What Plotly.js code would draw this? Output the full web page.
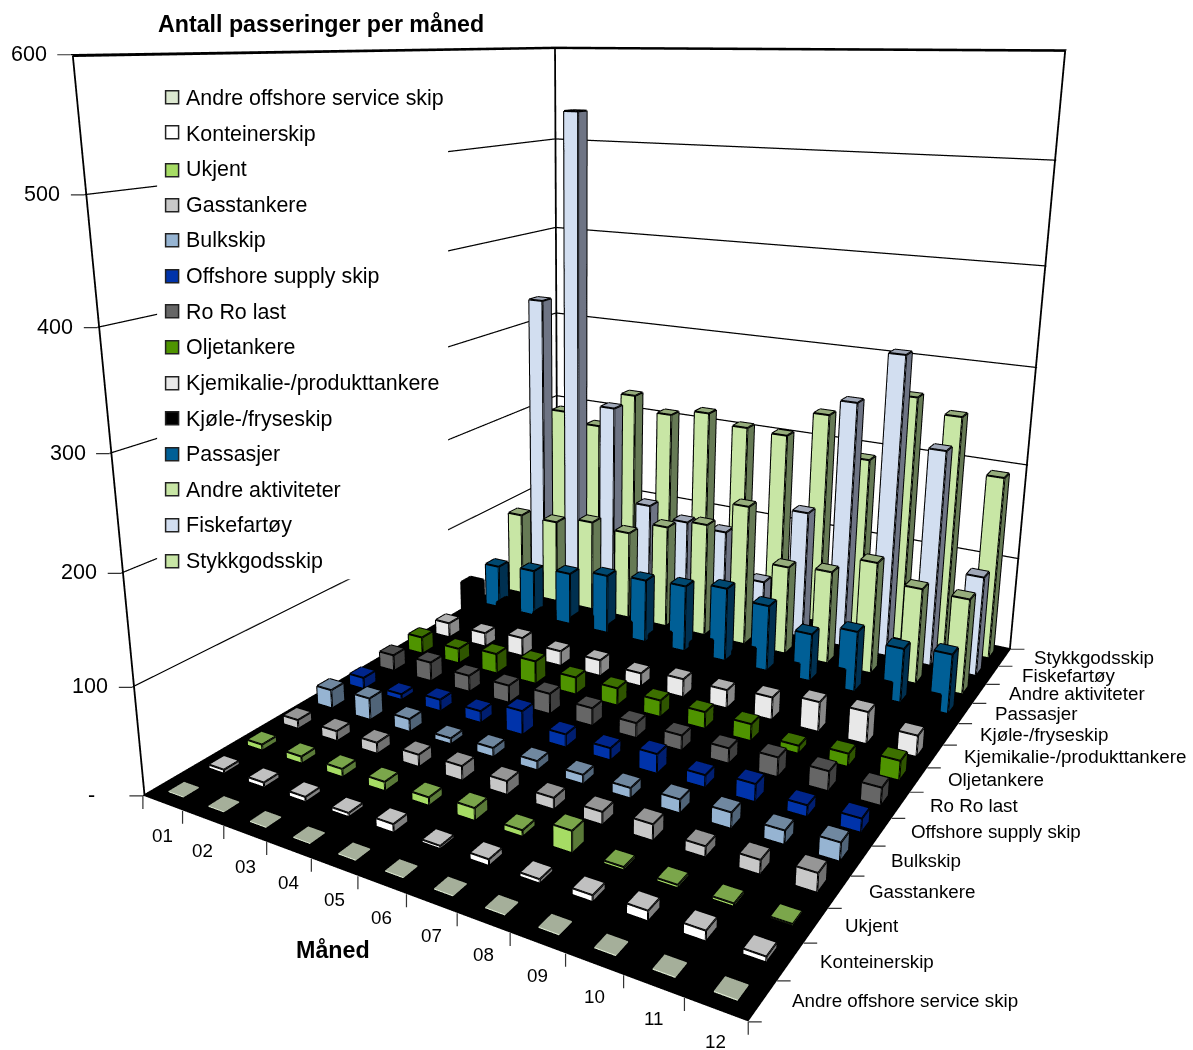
<!DOCTYPE html>
<html>
<head>
<meta charset="utf-8">
<script src="https://cdn.plot.ly/plotly-3.0.1.min.js"></script>
<style>
html,body{margin:0;padding:0;width:1193px;height:1050px;overflow:hidden;background:#fff}
#chart{position:absolute;left:-71.1px;top:-141.17px;width:1300px;height:1192px}
</style>
</head>
<body>
<div id="chart"></div>
<script>
// Monthly passages by ship type, as a 3D column chart.
const months = ['01','02','03','04','05','06','07','08','09','10','11','12'];
const shipTypes = ['Andre offshore service skip','Konteinerskip','Ukjent','Gasstankere','Bulkskip',
  'Offshore supply skip','Ro Ro last','Oljetankere','Kjemikalie-/produkttankere','Kjøle-/fryseskip',
  'Passasjer','Andre aktiviteter','Fiskefartøy','Stykkgodsskip'];

const andreOffshore = [1,1,1,1,1,1,1,1,1,1,1,1];
const konteiner = [3,4,4,3,7,2,5,3,5,8,8,4];
const ukjent = [5,6,7,8,7,11,5,19,2,2,2,1];
const gass = [8,9,10,11,13,12,10,11,14,9,12,16];
const bulk = [18,21,12,5,8,8,8,9,12,14,12,16];
const offshoreSupply = [11,5,11,11,23,12,11,18,11,16,10,12];
const roRo = [16,19,16,17,20,17,14,14,14,18,18,16];
const olje = [17,15,20,23,17,17,16,16,16,7,12,18];
const kjemikalie = [15,14,19,15,16,13,18,18,22,29,31,20];
const kjole = [42,28,26,30,33,32,34,36,30,35,33,32];
const passasjer = [47,51,57,64,68,71,78,69,49,62,55,60];
const andreAktiviteter = [93,93,101,97,112,123,151,94,98,117,99,98];
const fiskefartoy = [330,536,219,114,103,100,52,138,262,316,226,104];
const stykkgods = [192,181,223,207,215,205,203,232,190,263,249,193];
const seriesValues = [andreOffshore,konteiner,ukjent,gass,bulk,offshoreSupply,roRo,olje,kjemikalie,kjole,passasjer,andreAktiviteter,fiskefartoy,stykkgods];

// face colours per series: front, top, side
const frontColors = ['#DCE8D0','#FFFFFF','#A6DC64','#C8C8C8','#96B4D2','#0033AA','#666666','#4F9400','#E8E8E8','#000000','#005F96','#C8E6A5','#D2DEF0','#C8E6A5'];
const topColors   = ['#A5AF9A','#C0C0C0','#7BA64B','#969696','#7088A0','#00258C','#4D4D4D','#3D7000','#B0B0B0','#000000','#004870','#96AD7C','#A0A8B8','#96AD7C'];
const sideColors  = ['#A5AF9A','#808080','#5A7A38','#707070','#506478','#001E70','#404040','#2F5500','#888888','#000000','#003050','#667A55','#6E7484','#667A55'];

const zTicks = [0,100,200,300,400,500,600];
const zTickText = ['-','100','200','300','400','500','600'];
const legendRows = [97,132,170,205,240,276,311,347,383,418,454,489,525,561];
const BAR = 0.187;           // half width of a column in cell units
const FONT = 'Liberation Sans, Arial, sans-serif';

// The plot div is larger than the window: the scene's fixed field of view needs this height.
const TOP = 141.17, LEFT = -71.1, W = 1300, PAGE_H = 1192, SCENE_H = 1165.44;
const py = v => 1 - (v + TOP) / PAGE_H;
const px = v => (v - LEFT) / W;

const traces = [];
const swatches = [];
shipTypes.forEach((name, s) => {
  const r = s + 1;
  const x=[],y=[],z=[],i=[],j=[],k=[],fc=[];
  const ex=[],ey=[],ez=[];
  seriesValues[s].forEach((v, m) => {
    const c = m + 1, b = x.length;
    const x0=c-BAR,x1=c+BAR,y0=r-BAR,y1=r+BAR;
    [[x0,y0,0],[x1,y0,0],[x1,y1,0],[x0,y1,0],[x0,y0,v],[x1,y0,v],[x1,y1,v],[x0,y1,v]].forEach(p=>{x.push(p[0]);y.push(p[1]);z.push(p[2]);});
    const quad=(a,d,e,f,col)=>{i.push(b+a,b+a);j.push(b+d,b+e);k.push(b+e,b+f);fc.push(col,col);};
    quad(0,1,5,4,frontColors[s]);
    quad(1,2,6,5,sideColors[s]);
    quad(4,5,6,7,topColors[s]);
    quad(3,2,6,7,sideColors[s]);
    quad(0,3,7,4,sideColors[s]);
    [[4,5],[5,6],[6,7],[7,4],[0,4],[1,5],[2,6],[0,1],[1,2]].forEach(e=>{
      const p=[b+e[0],b+e[1]];
      ex.push(x[p[0]],x[p[1]],null);ey.push(y[p[0]],y[p[1]],null);ez.push(z[p[0]],z[p[1]],null);
    });
  });
  traces.push({type:'mesh3d',name,legendgroup:name,showlegend:false,x,y,z,i,j,k,facecolor:fc,flatshading:true,
    lighting:{ambient:1,diffuse:0,specular:0,fresnel:0,roughness:1},hoverinfo:'skip'});
  if (s > 0) traces.push({type:'scatter3d',mode:'lines',name,legendgroup:name,showlegend:false,x:ex,y:ey,z:ez,
    line:{color:'#000',width:4},hoverinfo:'skip'});
  traces.push({type:'scatter3d',mode:'markers',name,legendgroup:name,showlegend:true,x:[null],y:[null],z:[null],
    marker:{symbol:'square',size:12,color:'rgba(0,0,0,0)',opacity:0,line:{width:0,color:'rgba(0,0,0,0)'}},hoverinfo:'skip'});
  swatches.push({type:'rect',xref:'paper',yref:'paper',x0:px(165.5),x1:px(178.5),y0:py(legendRows[s]+6.5),y1:py(legendRows[s]-6.5),
    fillcolor:frontColors[s],line:{color:'#222',width:1.5},layer:'above'});
});

// frame of the two back walls, set just inside the cube so the wall planes do not hide it
const IN = 0.02;
traces.push({type:'scatter3d',mode:'lines',showlegend:false,hoverinfo:'skip',
  x:[0.5+IN,0.5+IN,0.5+IN,12.5-IN,12.5-IN,null,0.5+IN,0.5+IN],
  y:[0.5+IN,0.5+IN,14.5-IN,14.5-IN,14.5-IN,null,14.5-IN,14.5-IN],
  z:[1,599,599,599,1,null,1,599],
  line:{color:'#000',width:3.6}});

const XEND = 12.499, YEND = 14.499;
const tickStyle = {text:' ',font:{size:1},showarrow:true,arrowhead:0,arrowwidth:1.2,arrowcolor:'#333',standoff:0,startstandoff:0};
const annotations3d = [];
months.forEach((t,m)=>annotations3d.push({x:m+1,y:0.5,z:0,text:t,showarrow:false,xshift:0,yshift:-32,
  font:{family:FONT,size:18.8,color:'#000'}}));
shipTypes.forEach((t,s)=>annotations3d.push({x:XEND,y:s+1,z:0,text:t,showarrow:false,xanchor:'left',xshift:27,yshift:0,
  font:{family:FONT,size:18.8,color:'#000'}}));
zTicks.forEach((v,n)=>{
  annotations3d.push({x:0.5,y:0.5,z:v,text:zTickText[n],showarrow:false,xshift:v===0?-51:-42,yshift:1,
    font:{family:FONT,size:21.5,color:'#000'}});
  annotations3d.push(Object.assign({x:0.5,y:0.5,z:v,ax:-15,ay:0},tickStyle));
});
for (let c=0;c<=12;c++) annotations3d.push(Object.assign({x:Math.min(c+0.5,XEND),y:0.5,z:0,ax:0,ay:15},tickStyle));
for (let c=0;c<=14;c++) annotations3d.push(Object.assign({x:XEND,y:Math.min(c+0.5,YEND),z:0,ax:15,ay:0},tickStyle));

const axisBase = {autorange:false,showticklabels:false,ticks:'',zeroline:false,showline:false,showbackground:true,title:{text:''},showspikes:false};
const layout = {
  width:W,height:PAGE_H,margin:{l:0,r:0,t:0,b:0,pad:0},paper_bgcolor:'#fff',showlegend:true,
  title:{text:'<b>Antall passeringer per måned</b>',x:px(158),xanchor:'left',xref:'paper',y:py(24),yanchor:'middle',yref:'paper',
    font:{family:FONT,size:23.2,color:'#000'}},
  legend:{x:px(146),xanchor:'left',y:py(76),yanchor:'top',bgcolor:'rgba(0,0,0,0)',tracegroupgap:4.8,
    font:{family:FONT,size:21.4,color:'#000'},itemclick:false,itemdoubleclick:false},
  shapes:[{type:'rect',xref:'paper',yref:'paper',x0:px(157),x1:px(448),y0:py(579),y1:py(72),fillcolor:'#fff',line:{width:0},layer:'above'}].concat(swatches),
  annotations:[{xref:'paper',yref:'paper',x:px(333),y:py(950),xanchor:'center',yanchor:'middle',text:'<b>Måned</b>',showarrow:false,font:{family:FONT,size:23.3,color:'#000'}}],
  scene:{
    domain:{x:[0,1],y:[(PAGE_H-SCENE_H)/PAGE_H,1]},
    aspectmode:'manual',aspectratio:{x:0.88440,y:1.06666,z:0.95972},
    camera:{eye:{x:0.91865,y:-1.68272,z:0.50273},center:{x:-0.04973,y:-0.04578,z:-0.04858},up:{x:-0.14145,y:0.23980,z:0.96046},
      projection:{type:'perspective'}},
    dragmode:'orbit',hovermode:false,annotations:annotations3d,
    xaxis:Object.assign({},axisBase,{range:[0.5,12.5],showgrid:false,backgroundcolor:'#fff'}),
    yaxis:Object.assign({},axisBase,{range:[0.5,14.5],showgrid:false,backgroundcolor:'#fff'}),
    zaxis:Object.assign({},axisBase,{range:[0,600],tickvals:zTicks,showgrid:true,gridcolor:'#000',gridwidth:2.5,backgroundcolor:'#000'})
  }
};
Plotly.newPlot('chart',traces,layout,{displayModeBar:false});
</script>
</body>
</html>
